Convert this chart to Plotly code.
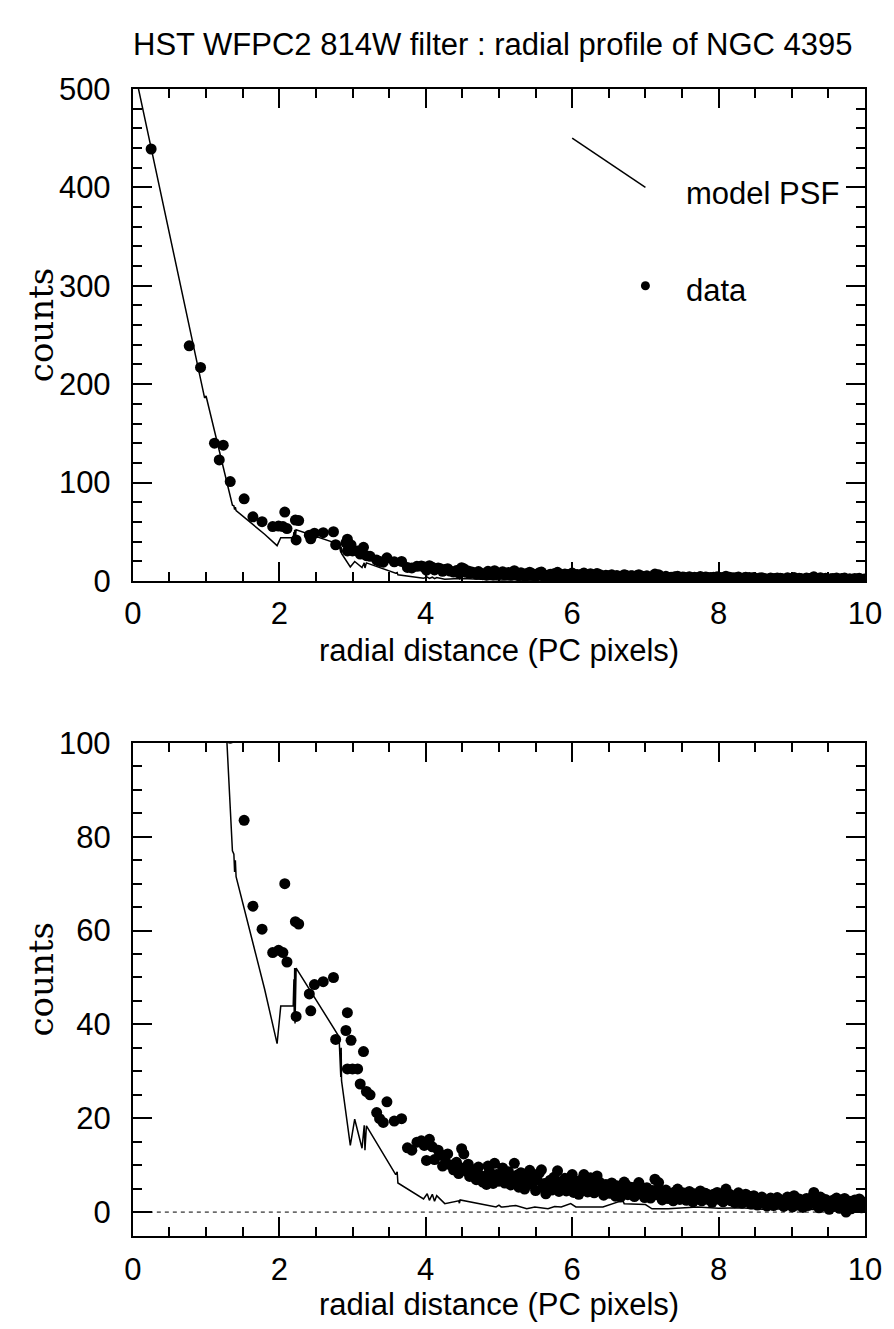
import plotly.graph_objects as go

# ---------------- data ----------------
data_x = [0.25, 0.77, 0.925, 1.115, 1.18, 1.235, 1.33, 1.52, 1.64, 1.765, 1.91, 1.99, 2.05, 2.075, 2.105,
          2.22, 2.265, 2.23, 2.41, 2.43, 2.48, 2.60, 2.74, 2.77, 2.91, 2.93, 2.98, 2.93, 3.00, 3.07,
          3.105, 3.15, 3.19, 3.24, 3.33, 3.37, 3.42, 3.47, 3.57, 3.67, 3.75, 3.81, 3.88, 3.94, 3.98,
          4.01, 4.05, 4.09, 4.12, 4.17, 4.20, 4.23, 4.26, 4.30, 4.33, 4.38, 4.42, 4.45, 4.49, 4.49,
          4.52, 4.55, 4.58, 4.60, 4.63, 4.66, 4.69, 4.72, 4.75, 4.78, 4.80, 4.83, 4.85, 4.87, 4.90,
          4.92, 4.94, 4.97, 5.00, 5.03, 5.05, 5.08, 5.10, 5.13, 5.16, 5.18, 5.21, 5.23, 5.25, 5.27,
          5.30, 5.32, 5.35, 5.38, 5.40, 5.42, 5.45, 5.47, 5.50, 5.52, 5.55, 5.58, 5.60, 5.62, 5.64,
          5.67, 5.70, 5.72, 5.75, 5.77, 5.80, 5.82, 5.85, 5.87, 5.90, 5.92, 5.94, 5.97, 6.00, 6.02,
          6.05, 6.07, 6.09, 6.12, 6.14, 6.16, 6.18, 6.21, 6.23, 6.25, 6.28, 6.30, 6.32, 6.34, 6.36,
          6.38, 6.41, 6.43, 6.46, 6.49, 6.51, 6.54, 6.56, 6.59, 6.61, 6.64, 6.66, 6.69, 6.71, 6.73,
          6.76, 6.78, 6.80, 6.82, 6.85, 6.87, 6.89, 6.91, 6.94, 6.96, 6.99, 7.02, 7.04, 7.07, 7.10,
          7.13, 7.15, 7.18, 7.20, 7.23, 7.26, 7.28, 7.31, 7.33, 7.35, 7.38, 7.40, 7.42, 7.44, 7.47,
          7.49, 7.51, 7.53, 7.56, 7.58, 7.60, 7.62, 7.65, 7.67, 7.70, 7.72, 7.75, 7.77, 7.80, 7.82,
          7.84, 7.87, 7.89, 7.91, 7.93, 7.96, 7.98, 8.01, 8.03, 8.06, 8.08, 8.10, 8.12, 8.15, 8.17,
          8.20, 8.22, 8.24, 8.27, 8.29, 8.32, 8.34, 8.37, 8.39, 8.42, 8.44, 8.46, 8.48, 8.51, 8.53,
          8.56, 8.59, 8.61, 8.63, 8.66, 8.68, 8.71, 8.73, 8.75, 8.77, 8.80, 8.82, 8.84, 8.86, 8.89,
          8.91, 8.94, 8.96, 8.99, 9.01, 9.03, 9.06, 9.08, 9.10, 9.12, 9.15, 9.17, 9.20, 9.22, 9.24,
          9.27, 9.30, 9.32, 9.34, 9.37, 9.39, 9.41, 9.44, 9.46, 9.48, 9.51, 9.53, 9.56, 9.58, 9.61,
          9.63, 9.65, 9.68, 9.70, 9.72, 9.74, 9.77, 9.79, 9.81, 9.83, 9.86, 9.88, 9.90, 9.92, 9.95,
          9.97, 9.99]
data_y = [439, 239, 217, 140, 123, 138, 101, 83.5, 65.2, 60.3, 55.3, 55.8, 55.3, 70.0, 53.3,
          61.9, 61.4, 41.7, 46.5, 42.9, 48.5, 49.1, 50.0, 36.8, 38.7, 42.5, 36.6, 30.5, 30.5, 30.5,
          27.3, 34.2, 25.7, 25.0, 21.2, 19.9, 19.1, 23.5, 19.4, 19.9, 13.7, 13.2, 14.9, 15.2, 14.2,
          11.0, 15.5, 13.9, 11.2, 13.2, 12.3, 9.8, 11.6, 12.4, 10.1, 9.0, 10.6, 8.2, 9.4, 13.5,
          12.4, 8.8, 10.2, 7.6, 9.1, 8.2, 6.9, 9.6, 7.8, 6.4, 7.3, 5.9, 9.8, 8.7, 7.2,
          6.1, 10.4, 8.0, 6.6, 7.9, 9.4, 6.2, 7.1, 8.6, 5.8, 7.4, 10.4, 6.9, 7.9, 5.3,
          8.4, 6.6, 4.9, 7.6, 6.2, 8.9, 5.9, 7.2, 4.6, 6.8, 8.3, 9.0, 5.2, 6.1, 3.9,
          5.9, 6.8, 4.7, 7.4, 5.6, 8.8, 4.4, 6.5, 5.1, 7.2, 4.5, 6.6, 5.4, 8.0, 4.2,
          6.1, 6.6, 3.8, 5.5, 7.1, 8.0, 5.2, 4.3, 6.4, 7.3, 5.0, 4.1, 6.8, 7.7, 5.6,
          6.3, 4.4, 3.6, 5.9, 5.2, 4.0, 6.2, 4.5, 3.4, 5.6, 4.5, 3.2, 4.9, 6.4, 5.9,
          3.7, 4.6, 5.3, 5.2, 3.3, 4.4, 5.6, 6.3, 3.9, 4.8, 3.1, 5.2, 4.1, 3.0, 4.6,
          7.0, 3.7, 6.3, 4.4, 2.6, 3.2, 4.7, 2.9, 3.6, 3.8, 2.4, 4.3, 3.1, 4.9, 2.7,
          3.5, 4.1, 3.8, 2.5, 3.3, 4.4, 3.2, 2.2, 3.9, 2.8, 3.5, 4.5, 2.4, 3.1, 4.0,
          3.8, 2.6, 3.4, 2.1, 3.8, 2.9, 4.2, 2.7, 3.5, 2.2, 3.9, 4.9, 2.9, 3.8, 2.4,
          3.3, 2.0, 3.2, 4.1, 2.6, 1.9, 3.0, 3.8, 2.3, 3.4, 1.7, 2.8, 3.5, 2.2, 1.5,
          2.9, 3.2, 2.0, 2.6, 1.3, 1.8, 3.0, 2.2, 1.4, 2.5, 3.1, 1.9, 2.7, 2.5, 1.2,
          2.0, 3.2, 1.6, 2.4, 1.1, 3.5, 2.2, 1.5, 2.8, 2.5, 1.0, 1.9, 2.9, 1.4, 2.3,
          3.1, 4.2, 1.7, 2.6, 0.9, 3.2, 2.0, 1.3, 2.7, 1.8, 0.6, 2.2, 2.5, 1.2, 3.0,
          1.6, 0.8, 2.4, 1.8, 2.9, 0.0, 1.5, 2.3, 0.7, 1.8, 2.6, 1.1, 2.0, 2.8, 0.9,
          1.6, 2.1]

model_x = [0.0, 0.96, 0.98, 1.0, 1.36, 1.38, 1.39, 1.40, 1.41, 1.80, 1.97, 2.02, 2.19, 2.20, 2.205,
           2.21, 2.215, 2.23, 2.80, 2.82, 2.84, 2.845, 2.85, 2.97, 3.03, 3.13, 3.16, 3.17, 3.19, 3.59,
           3.61, 3.62, 3.97, 4.02, 4.05, 4.09, 4.12, 4.15, 4.26, 4.45, 4.46, 4.47, 4.96, 5.00, 5.03,
           5.05, 5.23, 5.38, 5.49, 5.67, 5.76, 5.85, 5.98, 6.05, 6.34, 6.42, 6.69, 6.71, 7.00, 7.09,
           7.31, 7.71, 8.00, 8.30, 8.60, 9.00, 9.40, 9.70, 10.0]
model_y = [527, 190, 186, 188, 77, 76.3, 72.5, 75, 71.5, 47.5, 35.9, 43.9, 43.9, 49.6, 41,
           52, 40.2, 52.0, 37.8, 36, 28.8, 35, 28, 14.2, 19.8, 13.6, 18.5, 13.2, 18.4, 8.0,
           8.6, 6.2, 2.8, 3.9, 2.5, 3.8, 2.3, 3.5, 1.8, 2.4, 1.9, 2.6, 1.1, 1.5, 1.1,
           1.1, 1.4, 0.7, 1.1, 0.7, 1.2, 1.1, 1.8, 1.1, 1.1, 1.1, 2.5, 1.8, 1.6, 0.7,
           0.7, 1.1, 0.8, 0.9, 0.6, 0.7, 0.5, 0.6, 0.5]

legend_line_x = [6.0, 7.0]
legend_line_y = [450, 400]
legend_dot_x = [7.0]
legend_dot_y = [300]

title_text = "HST WFPC2 814W filter : radial profile of NGC 4395"
xtitle_text = "radial distance (PC pixels)"
ytitle_text = "counts"

# ---------------- figure ----------------
W, H = 894, 1329
L, R = 119.3, 873.5
T1, B1 = 65.7, 571.0
T2, B2 = 737.3, 1243.3

def fx(px):
    return px / W

def fy(py):
    return 1 - py / H

SANS = "Liberation Sans, Arial, Helvetica, sans-serif"
SERIF = "DejaVu Serif, serif"
FS = 31

fig = go.Figure()

for xa, ya in (("x", "y"), ("x2", "y2")):
    fig.add_trace(go.Scatter(x=model_x, y=model_y, mode="lines", xaxis=xa, yaxis=ya,
                             line=dict(color="black", width=1.5), showlegend=False))
    fig.add_trace(go.Scatter(x=data_x, y=data_y, mode="markers", xaxis=xa, yaxis=ya,
                             marker=dict(color="black", size=11, line=dict(width=0)),
                             showlegend=False))

# legend drawn in data space of the top panel
fig.add_trace(go.Scatter(x=legend_line_x, y=legend_line_y, mode="lines", xaxis="x", yaxis="y",
                         line=dict(color="black", width=1.5), showlegend=False))
fig.add_trace(go.Scatter(x=legend_dot_x, y=legend_dot_y, mode="markers", xaxis="x", yaxis="y",
                         marker=dict(color="black", size=9), showlegend=False))

common = dict(showline=True, linecolor="black", linewidth=2, mirror="allticks",
              ticks="inside", ticklen=19, tickwidth=1.5, tickcolor="black",
              showgrid=False, zeroline=False,
              tickfont=dict(family=SANS, size=FS, color="black"))

xcommon = dict(common, range=[0, 10], tick0=0, dtick=2,
               minor=dict(dtick=0.5, ticklen=9, tickwidth=1.5, tickcolor="black",
                          ticks="inside", showgrid=False))

fig.update_layout(
    width=W, height=H,
    margin=dict(l=0, r=0, t=0, b=0),
    paper_bgcolor="white", plot_bgcolor="white",
    xaxis=dict(xcommon, domain=[fx(L), fx(R)], anchor="y", ticklabelstandoff=4),
    yaxis=dict(common, domain=[fy(B1), fy(T1)], anchor="x", range=[0, 500], tick0=0, dtick=100,
               minor=dict(dtick=20, ticklen=9, tickwidth=1.5, tickcolor="black",
                          ticks="inside", showgrid=False), ticklabelstandoff=14),
    xaxis2=dict(xcommon, domain=[fx(L), fx(R)], anchor="y2", ticklabelstandoff=5),
    yaxis2=dict(common, domain=[fy(B2), fy(T2)], anchor="x2", range=[-5, 100], tick0=0, dtick=20,
                minor=dict(dtick=5, ticklen=9, tickwidth=1.5, tickcolor="black",
                           ticks="inside", showgrid=False), ticklabelstandoff=14),
)

# zero reference line (bottom panel)
fig.add_shape(type="line", xref="x2", yref="y2", x0=0, x1=10, y0=0, y1=0,
              line=dict(color="black", width=1, dash="4px,4px"))

ann = []
ann.append(dict(text=title_text, x=fx(490), y=fy(20), xref="paper", yref="paper",
                xanchor="center", yanchor="middle", showarrow=False,
                font=dict(family=SANS, size=FS, color="black")))
for ty in (642, 1314):
    ann.append(dict(text=xtitle_text, x=fx((L + R) / 2), y=fy(ty), xref="paper", yref="paper",
                    xanchor="center", yanchor="middle", showarrow=False,
                    font=dict(family=SANS, size=FS, color="black")))
for ty in (308, 980):
    ann.append(dict(text=ytitle_text, x=fx(25), y=fy(ty), xref="paper", yref="paper",
                    xanchor="center", yanchor="middle", showarrow=False, textangle=-90,
                    font=dict(family=SERIF, size=34, color="black")))
ann.append(dict(text="model PSF", x=7.53, y=394, xref="x", yref="y", xanchor="left",
                yanchor="middle", showarrow=False, font=dict(family=SANS, size=FS, color="black")))
ann.append(dict(text="data", x=7.53, y=295, xref="x", yref="y", xanchor="left",
                yanchor="middle", showarrow=False, font=dict(family=SANS, size=FS, color="black")))
fig.update_layout(annotations=ann)

fig.write_html("out.html")
